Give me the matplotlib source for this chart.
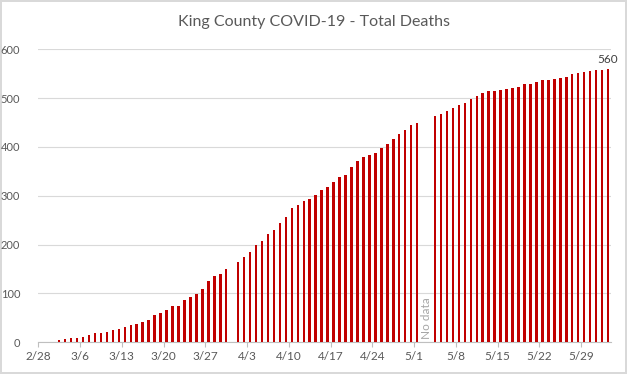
import numpy as np
import pandas as pd
import matplotlib
matplotlib.use('Agg')
import matplotlib.pyplot as plt

plt.rcParams['font.family'] = ['Lato', 'DejaVu Sans']

# daily cumulative deaths, 2/28 .. 6/2 (None = no data that day)
dates = pd.date_range('2020-02-28', '2020-06-02', freq='D')
deaths = [
    0, 0, 0, 5, 7, 9, 9, 11, 15, 18,
    20, 22, 26, 28, 32, 36, 38, 42, 46, 56,
    60, 66, 74, 74, 87, 93, 99, 109, 125, 135,
    139, 150, None, 164, 174, 184, 199, 207, 221, 229,
    244, 256, 276, 282, 290, 294, 301, 311, 319, 329,
    339, 343, 359, 372, 380, 384, 388, 398, 407, 417,
    427, 435, 445, 450, None, None, 464, 468, 474, 480,
    485, 490, 498, 505, 511, 515, 515, 517, 519, 521,
    523, 529, 529, 533, 537, 537, 539, 541, 543, 550,
    552, 554, 556, 558, 558, 560,
]
title = 'King County COVID-19 - Total Deaths'
no_data_label = 'No data'

x = np.arange(len(dates))
vals = np.array([np.nan if v is None else v for v in deaths], dtype=float)

fig = plt.figure(figsize=(6.27, 3.74), dpi=100)
fig.patch.set_edgecolor('#d9d9d9')
fig.patch.set_linewidth(1.5)
ax = fig.add_axes([0.0611, 0.0848, 0.9134, 0.7834])

ax.bar(x, np.nan_to_num(vals), width=0.42, color='#C00000', zorder=3)

ax.set_xlim(-0.5, len(dates) - 0.5)
ax.set_ylim(0, 600)
ax.set_yticks(range(0, 601, 100))
ax.grid(axis='y', color='#d9d9d9', linewidth=0.8, zorder=0)

tick_idx = x[::7]
ax.set_xticks(tick_idx - 0.5)
ax.set_xticklabels([f'{d.month}/{d.day}' for d in dates[::7]])

for s in ['top', 'right', 'left']:
    ax.spines[s].set_visible(False)
ax.spines['bottom'].set_color('#bfbfbf')
ax.tick_params(axis='y', length=0, pad=13, labelsize=8, labelcolor='#595959')
ax.tick_params(axis='x', length=3.5, color='#bfbfbf', pad=3, labelsize=8.5, labelcolor='#595959')

# last value label
ax.text(x[-1], vals[-1] + 8, f'{int(vals[-1])}', ha='center', va='bottom',
        fontsize=8.5, color='#404040')

# gap annotation
ax.text(64.6, 6, no_data_label, rotation=90, ha='center', va='bottom',
        fontsize=8.5, color='#a6a6a6')

fig.text(0.5, 0.94, title, ha='center', va='center', fontsize=11.5, color='#595959')

fig.savefig('out.png', dpi=100)
